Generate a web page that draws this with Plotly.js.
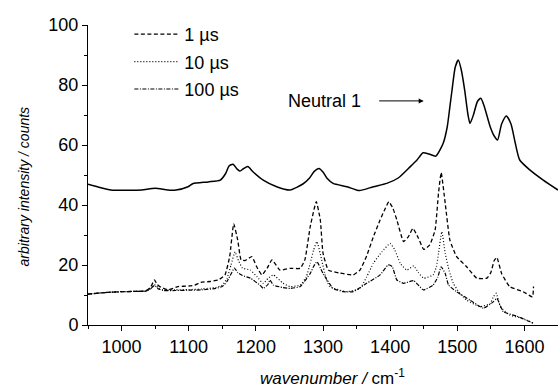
<!DOCTYPE html>
<html>
<head>
<meta charset="utf-8">
<script src="https://cdn.plot.ly/plotly-3.0.1.min.js"></script>
<style>html,body{margin:0;padding:0;background:#fff;}#chart{width:558px;height:388px;}</style>
</head>
<body>
<div id="chart"></div>
<script>
// Neutral 1 spectrum (solid)
const neutralWn = [950, 965, 984, 1010, 1030, 1050, 1069, 1081, 1099, 1106, 1129, 1147, 1155, 1160, 1166, 1172, 1176, 1181, 1188, 1196, 1211, 1231, 1251, 1270, 1280, 1287, 1294, 1300, 1306, 1315, 1336, 1354, 1375, 1395, 1412, 1430, 1440, 1449, 1458, 1468, 1479, 1485, 1489, 1492, 1497, 1501.5, 1506, 1511, 1516, 1519, 1524, 1530, 1535, 1540, 1549, 1555, 1560, 1566, 1573, 1580, 1586, 1593, 1608, 1628, 1650];
const neutralVal = [46.9, 46.0, 45.0, 44.9, 45.0, 45.6, 45.0, 45.0, 46.1, 47.1, 47.7, 48.3, 50.5, 53.0, 53.6, 52.0, 51.3, 52.0, 52.8, 51.0, 48.3, 46.1, 45.0, 47.0, 49.0, 51.2, 52.2, 51.0, 48.9, 47.2, 46.1, 44.8, 46.1, 47.2, 49.0, 52.8, 55.0, 57.4, 57.0, 56.3, 60.6, 66.0, 72.8, 78.0, 86.0, 88.3, 85.0, 78.3, 70.0, 67.2, 70.0, 74.5, 75.6, 73.0, 66.1, 63.0, 61.7, 67.0, 69.7, 67.0, 61.0, 55.0, 51.7, 48.3, 45.0];

// 1 µs (dashed)
const us1Wn = [950, 975, 999, 1020, 1036, 1043, 1049, 1053, 1057, 1069, 1084, 1100, 1109, 1118, 1132, 1144, 1154, 1161, 1167, 1173, 1178, 1184, 1194, 1201, 1209, 1217, 1224, 1236, 1251, 1266, 1273, 1281, 1290, 1296, 1300, 1308, 1325, 1345, 1355, 1365, 1375, 1385, 1392, 1398, 1404, 1410, 1420, 1427, 1434, 1442, 1450, 1459, 1467, 1472, 1476, 1482, 1489, 1499, 1514, 1529, 1544, 1550, 1555, 1559, 1566, 1578, 1598, 1612, 1613.5];
const us1Val = [10.3, 10.8, 11.1, 11.2, 11.4, 12.5, 15.0, 13.5, 12.8, 11.7, 12.8, 13.0, 13.3, 14.2, 14.5, 15.0, 16.7, 22.8, 33.7, 28.3, 21.7, 21.5, 22.8, 19.5, 16.7, 19.0, 21.7, 18.3, 18.9, 18.9, 21.7, 32.8, 41.1, 35.0, 24.0, 18.3, 17.3, 16.7, 18.3, 23.0, 29.4, 35.0, 38.5, 41.1, 39.0, 35.0, 27.8, 29.4, 32.2, 29.0, 25.2, 26.7, 31.7, 43.9, 50.8, 40.6, 28.3, 22.8, 19.4, 15.6, 15.6, 17.5, 21.5, 22.5, 17.2, 12.8, 11.1, 9.4, 12.8];

// 10 µs (dotted)
const us10Wn = [950, 975, 999, 1020, 1036, 1043, 1049, 1055, 1062, 1080, 1100, 1120, 1140, 1150, 1157, 1163, 1169, 1174, 1180, 1192, 1202, 1211, 1218, 1226, 1240, 1251, 1266, 1275, 1281, 1286, 1291, 1298, 1304, 1310, 1335, 1355, 1365, 1375, 1388, 1400, 1407, 1415, 1425, 1435, 1442, 1450, 1464, 1469, 1472, 1477, 1482, 1488, 1494, 1504, 1514, 1534, 1549, 1554, 1558, 1564, 1578, 1598, 1613];
const us10Val = [10.3, 10.8, 11.1, 11.2, 11.3, 12.0, 13.5, 12.3, 11.7, 11.7, 11.8, 12.0, 12.5, 13.3, 15.5, 20.0, 24.4, 21.5, 19.0, 18.3, 16.0, 13.9, 15.5, 16.7, 14.0, 12.8, 13.3, 16.0, 20.6, 25.0, 27.8, 21.7, 16.0, 12.8, 11.1, 12.2, 16.0, 20.6, 24.5, 27.2, 25.0, 20.6, 18.3, 19.7, 17.5, 15.6, 16.7, 19.5, 23.9, 31.1, 23.9, 18.0, 13.9, 10.5, 8.3, 6.1, 7.2, 9.5, 10.6, 6.1, 3.3, 2.2, 0.6];

// 100 µs (dash-dot)
const us100Wn = [950, 975, 999, 1020, 1036, 1043, 1049, 1055, 1062, 1080, 1100, 1120, 1140, 1150, 1157, 1163, 1168, 1173, 1180, 1192, 1206, 1211, 1218, 1221, 1226, 1240, 1251, 1266, 1281, 1286, 1291, 1300, 1315, 1330, 1345, 1365, 1385, 1397, 1403, 1410, 1420, 1435, 1449.5, 1464, 1471, 1476, 1482, 1487, 1499, 1519, 1539, 1554, 1559, 1568.5, 1588, 1613];
const us100Val = [10.3, 10.8, 11.1, 11.2, 11.3, 12.0, 13.2, 12.0, 11.5, 11.5, 11.6, 11.7, 12.2, 12.8, 14.5, 17.0, 19.0, 17.5, 16.5, 15.6, 13.3, 12.2, 13.5, 15.0, 13.3, 12.5, 12.2, 12.8, 17.2, 19.5, 21.1, 17.2, 12.2, 11.1, 11.1, 13.9, 16.7, 20.0, 19.5, 15.0, 13.9, 14.8, 11.7, 13.3, 16.0, 19.4, 17.2, 13.3, 11.1, 8.3, 5.6, 7.8, 8.9, 4.4, 3.0, 0.6];

const seriesNames = ['1 µs', '10 µs', '100 µs'];
const xTickVals = [1000, 1100, 1200, 1300, 1400, 1500, 1600];
const yTickVals = [0, 20, 40, 60, 80, 100];

const FONT = 'Arial, "Liberation Sans", sans-serif';

const traces = [
  {x: neutralWn, y: neutralVal, mode: 'lines', showlegend: false, name: 'Neutral 1',
   line: {color: '#000', width: 1.5, shape: 'spline', smoothing: 0.6}},
  {x: us1Wn, y: us1Val, mode: 'lines', name: seriesNames[0], legendgroup: 'a',
   line: {color: '#000', width: 1.3, dash: '4px,2.5px', shape: 'spline', smoothing: 0.4}},
  {x: us10Wn, y: us10Val, mode: 'lines', name: seriesNames[1], legendgroup: 'b',
   line: {color: '#000', width: 1.2, dash: '1px,2px', shape: 'spline', smoothing: 0.4}},
  {x: us100Wn, y: us100Val, mode: 'lines', name: seriesNames[2], legendgroup: 'c',
   line: {color: '#000', width: 1.2, dash: '4px,1.5px,1px,1.5px', shape: 'spline', smoothing: 0.4}}
];

const layout = {
  width: 558, height: 388,
  margin: {l: 88, r: 0, t: 25, b: 63},
  paper_bgcolor: '#fff', plot_bgcolor: '#fff',
  font: {family: FONT, size: 17, color: '#000'},
  showlegend: true,
  legend: {x: 0.088, y: 1.03, xanchor: 'left', yanchor: 'top', bgcolor: 'rgba(0,0,0,0)',
           font: {family: FONT, size: 18, color: '#000'}, tracegroupgap: 1, itemwidth: 45},
  xaxis: {range: [950, 1650], tickvals: xTickVals, ticks: 'outside', ticklen: 5, tickwidth: 1,
          tickcolor: '#000', showline: true, linecolor: '#000', linewidth: 1, showgrid: false,
          zeroline: false, tickfont: {family: FONT, size: 18, color: '#000'},
          minor: {dtick: 50, ticks: 'outside', ticklen: 3, tickcolor: '#000', showgrid: false},
          title: {text: '&nbsp;&nbsp;&nbsp;&nbsp;<i>wavenumber /</i> cm<sup>-1</sup>', font: {family: FONT, size: 17, color: '#000'}, standoff: 20}},
  yaxis: {range: [0, 100], tickvals: yTickVals, ticks: 'outside', ticklen: 5, tickwidth: 1,
          tickcolor: '#000', showline: true, linecolor: '#000', linewidth: 1, showgrid: false,
          zeroline: false, tickfont: {family: FONT, size: 18, color: '#000'},
          minor: {dtick: 10, ticks: 'outside', ticklen: 3, tickcolor: '#000', showgrid: false},
          title: {text: '<i>arbitrary intensity / counts</i>&nbsp;&nbsp;&nbsp;&nbsp;&nbsp;&nbsp;', font: {family: FONT, size: 14, color: '#000'}, standoff: 15}},
  annotations: [
    {x: 1359, y: 74.7, xref: 'x', yref: 'y', text: 'Neutral 1', showarrow: false,
     font: {family: FONT, size: 18, color: '#000'}, xanchor: 'right'},
    {x: 1450, y: 74.7, xref: 'x', yref: 'y', text: '', showarrow: true, ax: -46, ay: 0,
     arrowhead: 2, arrowsize: 1, arrowwidth: 1, arrowcolor: '#000'}
  ]
};

Plotly.newPlot('chart', traces, layout, {displayModeBar: false, staticPlot: true});
</script>
</body>
</html>
